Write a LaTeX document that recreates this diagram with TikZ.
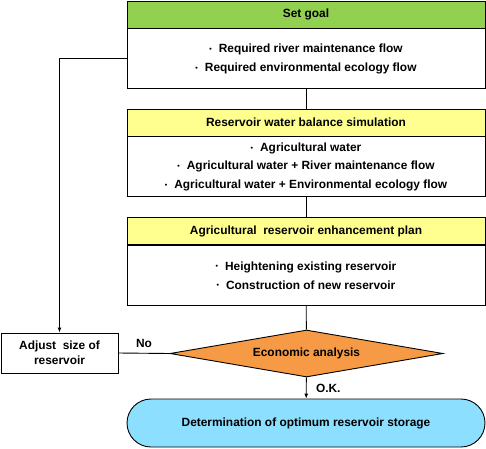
\documentclass[tikz,border=0pt]{standalone}
\usepackage{fontspec}
\setmainfont{Liberation Sans}
\usepackage{tikz}
\usetikzlibrary{arrows.meta,positioning,shapes.geometric}
\definecolor{goalgreen}{HTML}{92D050}
\definecolor{paleyellow}{HTML}{FFFF8F}
\definecolor{econorange}{HTML}{F79A45}
\definecolor{skyblue}{HTML}{8DDFFF}
\newcommand{\blt}{\raisebox{0.2ex}{\fontsize{7}{7}\selectfont•}\hspace{7pt}}

\begin{document}
\begin{tikzpicture}[x=1pt,y=1pt,node distance=0pt, every node/.style={font=\fontsize{11.9}{19}\selectfont\bfseries},
    head/.style={draw,line width=0.9pt,minimum width=358pt,minimum height=27pt,inner sep=0pt},
    body/.style={draw,line width=0.9pt,fill=white,minimum width=358pt,minimum height=60pt,inner sep=0pt,align=center}]
    \useasboundingbox (0,0) rectangle (486,448);
    \node[head,fill=goalgreen] (goal) at (306,433.5) {Set goal};
    \node[body,below=of goal] (goalbody) {\blt Required river maintenance flow\\ \blt Required environmental ecology flow};
    \node[head,fill=paleyellow] (sim) at (306,325.5) {Reservoir water balance simulation};
    \node[body,below=of sim,font=\fontsize{11.9}{18.5}\selectfont\bfseries] (simbody) {\blt Agricultural water\\ \blt Agricultural water + River maintenance flow\\ \blt Agricultural water + Environmental ecology flow};
    \node[head,fill=paleyellow] (plan) at (306,217) {Agricultural\ \ reservoir enhancement plan};
    \node[body,below=of plan] (planbody) {\blt Heightening existing reservoir\\ \blt Construction of new reservoir};
    \node[draw,line width=0.9pt,diamond,fill=econorange,aspect=5.8,inner sep=0pt,minimum width=273pt,minimum height=47pt] (econ) at (306.5,94.5) {Economic analysis};
    \node[draw,line width=0.9pt,minimum width=117pt,minimum height=40pt,inner sep=0pt,align=center,font=\fontsize{11.9}{15}\selectfont\bfseries] (adjust) at (59.5,95) {Adjust\ \ size of\\ reservoir};
    \node[draw,line width=0.9pt,fill=skyblue,rounded corners=24pt,minimum width=358pt,minimum height=48pt] (optimum) at (306,25) {Determination of optimum reservoir storage};
    \draw[line width=0.9pt] (goalbody) -- (sim); \draw[line width=0.9pt] (simbody) -- (plan); \draw[line width=0.9pt] (planbody) -- (econ);
    \draw[line width=0.9pt,-{Latex[length=5pt,width=4pt]}] (econ) -- node[right=6pt,font=\fontsize{11.9}{12}\selectfont\bfseries] {O.K.} (optimum);
    \draw[line width=0.9pt,-{Latex[length=5pt,width=4pt]}] (goalbody.west) -| (adjust.north);
    \draw[line width=0.9pt] (econ.west) -- node[above=2pt,font=\fontsize{11.9}{12}\selectfont\bfseries] {No} (adjust.east);
  \end{tikzpicture}
\end{document}
